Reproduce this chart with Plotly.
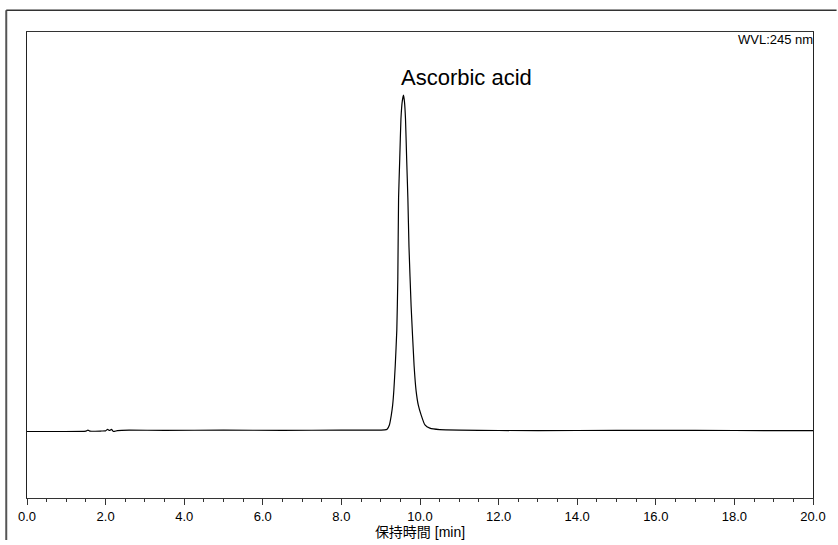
import plotly.graph_objects as go

# Retention time (min) and detector signal (relative, baseline = 0)
time_min = [0.0, 0.8, 1.5, 1.55, 1.6, 1.9, 2.0, 2.05, 2.1, 2.15, 2.2, 2.3, 2.6, 3.5, 5.0,
            6.5, 8.0, 8.8, 9.1, 9.163, 9.221, 9.27, 9.304, 9.334, 9.37, 9.41, 9.435,
            9.455, 9.485, 9.515, 9.55, 9.58, 9.605, 9.631, 9.66, 9.691, 9.72, 9.774,
            9.85, 9.90, 9.957, 10.03, 10.126, 10.25, 10.5, 11.0, 12.0, 14.0, 16.0, 18.0, 20.0]
signal = [-0.2, -0.2, -0.1, 0.25, -0.1, -0.05, 0.0, 0.45, 0.1, 0.45, -0.2, 0.05, 0.2, 0.15, 0.2,
          0.15, 0.2, 0.2, 0.3, 0.5, 1.76, 4.7, 7.65, 12.0, 19.4, 30.0, 45.0,
          69.4, 81.2, 92.9, 98.3, 100.0, 98.0, 92.9, 81.2, 69.4, 54.7, 37.1,
          19.4, 12.0, 7.65, 4.7, 1.76, 0.8, 0.35, 0.2, 0.1, 0.1, 0.15, 0.1, 0.05]

x_tick_vals = [0, 2, 4, 6, 8, 10, 12, 14, 16, 18, 20]
x_tick_text = ["0.0", "2.0", "4.0", "6.0", "8.0", "10.0", "12.0", "14.0", "16.0", "18.0", "20.0"]

peak_label = "Ascorbic acid"
wvl_label = "WVL:245 nm"
x_title = "保持時間 [min]"

FONT = "Liberation Sans, Arial, Noto Sans CJK JP, sans-serif"

fig = go.Figure()
fig.add_trace(go.Scatter(x=time_min, y=signal, mode="lines",
                         line=dict(color="black", width=1.2, shape="spline", smoothing=0.4),
                         hoverinfo="skip", showlegend=False))

fig.add_annotation(x=11.18, y=105.3, xref="x", yref="y", text=peak_label, showarrow=False,
                   font=dict(family=FONT, size=22, color="black"), xanchor="center", yanchor="middle")
fig.add_annotation(x=1.0, y=1.0, xref="paper", yref="paper", text=wvl_label, showarrow=False,
                   font=dict(family=FONT, size=13, color="black"), xanchor="right", yanchor="top",
                   xshift=2, yshift=2)

# outer frame lines (partially visible)
fig.add_shape(type="line", xref="paper", yref="paper", x0=-0.0264, x1=-0.0264, y0=1.0466, y1=-0.09,
              line=dict(color="#555555", width=2))
fig.add_shape(type="line", xref="paper", yref="paper", x0=-0.0264, x1=1.03, y0=1.0466, y1=1.0466,
              line=dict(color="#333333", width=1.5))

fig.update_layout(
    width=838, height=545,
    margin=dict(l=27, r=15, t=32, b=41),
    paper_bgcolor="white", plot_bgcolor="white",
    hovermode=False,
    font=dict(family=FONT, size=13, color="black"),
    xaxis=dict(range=[0, 20], tickvals=x_tick_vals, ticktext=x_tick_text,
               ticks="outside", ticklen=6, tickwidth=1, tickcolor="#333333",
               minor=dict(dtick=0.5, ticks="outside", ticklen=3, tickcolor="#333333", tickwidth=1),
               showline=True, linecolor="#333333", linewidth=1, mirror=True,
               showgrid=False, zeroline=False,
               tickfont=dict(family=FONT, size=13, color="black"),
               title=dict(text=x_title, font=dict(family=FONT, size=14, color="black"), standoff=0)),
    yaxis=dict(range=[-20, 118.8], showticklabels=False, ticks="",
               showline=True, linecolor="#222222", linewidth=1, mirror=True,
               showgrid=False, zeroline=False),
)

fig.write_html("out.html", config={"displayModeBar": False},
               post_script="document.body.style.margin='0';document.body.style.overflow='hidden';")
